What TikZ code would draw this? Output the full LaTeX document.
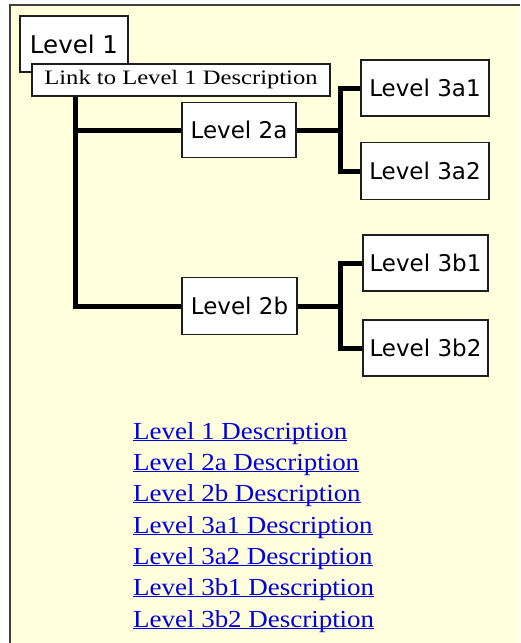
\documentclass[tikz,border=0pt]{standalone}
\usepackage{fontspec}
\newfontfamily\boxfont{DejaVu Sans}
\newfontfamily\linkfont[FakeStretch=1.2]{Liberation Serif}
\newfontfamily\descfont[FakeStretch=1.1]{Liberation Serif}
\definecolor{paper}{RGB}{255,255,222}
\definecolor{edge}{RGB}{30,30,30}
\definecolor{hyper}{RGB}{0,0,225}
% underline drawn just below the baseline, as in a browser link
\newcommand\linkline[1]{\setbox0\hbox{#1}\rlap{\rule[-2.2pt]{\wd0}{1.3pt}}\box0}
\tikzset{
  lvl/.style={draw=edge, line width=1.6pt, fill=white, inner sep=0pt,
              font=\boxfont\fontsize{23}{27}\selectfont},
  conn/.style={line width=5pt, draw=black, line join=miter},
  desc/.style={anchor=base west, inner sep=0pt, text=hyper,
               font=\descfont\fontsize{24.5}{28}\selectfont},
}
\begin{document}
\begin{tikzpicture}[x=1pt, y=-1pt]
  \useasboundingbox (0,0) rectangle (520,643);
  % page background and frame edges
  \fill[paper] (10,5) rectangle (520,643);
  \draw[edge!85, line width=2pt] (10,643) -- (10,5) -- (520,5);

  % boxes
  \node[lvl, minimum width=108pt, minimum height=56pt, font=\boxfont\fontsize{24.5}{28}\selectfont]
       (l1) at (74,44) {Level 1};
  \node[lvl, minimum width=298pt, minimum height=32pt, font=\linkfont\fontsize{20.5}{24}\selectfont]
       (link) at (181,80) {Link to Level 1 Description};
  \node[lvl, minimum width=114pt, minimum height=55pt] (l2a) at (239,130) {Level 2a};
  \node[lvl, minimum width=115pt, minimum height=57pt] (l2b) at (239.5,306) {Level 2b};
  \node[lvl, minimum width=128pt, minimum height=56pt] (l3a1) at (425,88) {Level 3a1};
  \node[lvl, minimum width=128pt, minimum height=57pt] (l3a2) at (425,171) {Level 3a2};
  \node[lvl, minimum width=125pt, minimum height=56pt] (l3b1) at (425.5,263) {Level 3b1};
  \node[lvl, minimum width=125pt, minimum height=56pt] (l3b2) at (425.5,348) {Level 3b2};

  % junction columns
  \coordinate (trunk) at (75,0);
  \coordinate (ja) at (340,0);
  \coordinate (jb) at (340,0);

  % connectors
  \draw[conn] (link.south -| trunk) -- (trunk |- l2b.west) -- (l2b.west);
  \draw[conn] (trunk |- l2a.west) -- (l2a.west);
  \draw[conn] (l2a.east) -- (ja |- l2a.east);
  \draw[conn] (l3a1.west) -- (l3a1.west -| ja) -- (l3a2.west -| ja) -- (l3a2.west);
  \draw[conn] (l2b.east) -- (jb |- l2b.east);
  \draw[conn] (l3b1.west) -- (l3b1.west -| jb) -- (l3b2.west -| jb) -- (l3b2.west);

  % description links
  \node[desc] (d1)  at (133,439) {\linkline{Level 1 Description}};
  \node[desc] (d2a) at (133,470) {\linkline{Level 2a Description}};
  \node[desc] (d2b) at (133,501) {\linkline{Level 2b Description}};
  \node[desc] (d3a1) at (133,533) {\linkline{Level 3a1 Description}};
  \node[desc] (d3a2) at (133,564) {\linkline{Level 3a2 Description}};
  \node[desc] (d3b1) at (133,595) {\linkline{Level 3b1 Description}};
  \node[desc] (d3b2) at (133,627) {\linkline{Level 3b2 Description}};
\end{tikzpicture}
\end{document}
